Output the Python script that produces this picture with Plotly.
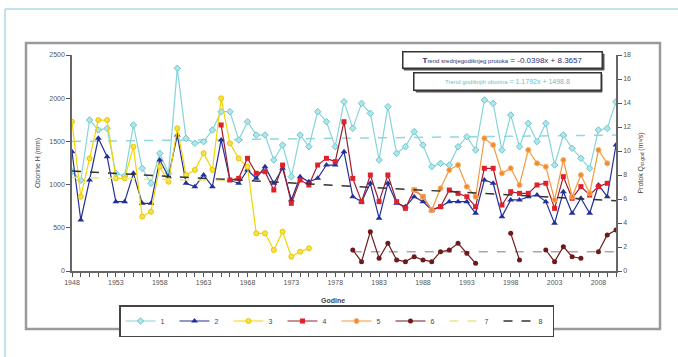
import plotly.graph_objects as go

years = list(range(1948, 2011))

# Series 1 - precipitation (mm), left axis
s1 = [1150, 1050, 1748, 1632, 1650, 1130, 1100, 1690, 1188, 1015,
      1362, 1130, 2346, 1535, 1478, 1497, 1632, 1844, 1844, 1516,
      1728, 1574, 1574, 1285, 1458, 1092, 1574, 1439, 1844, 1728,
      1439, 1960, 1651, 1940, 1825, 1285, 1902, 1362, 1439, 1613,
      1458, 1208, 1246, 1227, 1439, 1555, 1400, 1979, 1940, 1400,
      1806, 1439, 1709, 1497, 1709, 1227, 1574, 1420, 1304, 1188,
      1632, 1651, 1960]

# Series 2 - discharge (m3/s), right axis
s2 = [9.94, 4.25, 7.58, 11.06, 9.53, 5.78, 5.78, 8.14, 5.64, 5.64,
      9.25, 7.86, 11.33, 7.31, 7.03, 8.0, 7.03, 10.92, 7.58, 7.31,
      8.42, 7.72, 8.69, 7.31, 8.56, 5.92, 7.86, 7.44, 7.72, 8.83,
      8.83, 9.94, 6.19, 5.78, 7.31, 4.39, 7.31, 5.64, 5.36, 6.19,
      5.78, 5.08, 5.36, 5.78, 5.78, 5.78, 4.81, 7.58, 7.31, 4.53,
      5.92, 5.92, 6.19, 6.33, 5.78, 3.97, 6.61, 4.81, 6.06, 4.81,
      7.17, 6.19, 10.5]

# Series 3 (1948-1975)
s3_years = list(range(1948, 1976))
s3 = [12.44, 6.19, 9.39, 12.58, 12.58, 7.72, 7.72, 10.36, 4.53, 4.94,
      8.69, 7.44, 11.89, 8.0, 8.42, 9.81, 8.42, 14.39, 10.64, 9.39,
      8.69, 3.14, 3.14, 1.75, 3.28, 1.19, 1.61, 1.89]

# Series 4 (1965-2009)
s4_years = list(range(1965, 2010))
s4 = [12.17, 7.58, 7.72, 9.39, 8.14, 8.28, 6.75, 8.83, 5.64, 7.58,
      7.17, 8.83, 9.39, 9.11, 12.44, 7.72, 5.78, 8.0, 5.78, 8.0,
      5.78, 5.22, 6.75, 6.19, 5.08, 5.36, 6.75, 6.47, 6.19, 5.36,
      8.56, 8.56, 5.5, 6.61, 6.47, 6.47, 7.17, 7.31, 5.22, 7.86,
      6.06, 7.03, 6.33, 7.03, 7.31]

# Series 5 (1987-2009)
s5_years = list(range(1987, 2010))
s5 = [6.75, 6.19, 5.08, 6.89, 8.42, 8.83, 7.03, 6.19, 11.06, 10.5,
      8.14, 8.56, 7.17, 10.08, 8.97, 8.69, 5.92, 9.25, 6.19, 8.0,
      6.47, 10.08, 8.97]

# Series 6 (1980-2010, with gaps)
s6_years = list(range(1980, 2011))
s6 = [1.75, 0.78, 3.28, 1.06, 2.31, 0.92, 0.78, 1.19, 0.92, 0.78,
      1.61, 1.75, 2.31, 1.47, 0.64, None, None, None, 3.14, 0.92,
      None, None, 1.75, 0.78, 2.03, 1.19, 1.06, None, 1.61, 3.0,
      3.42]

# Trend lines (end points)
t7_years = [1948, 1967]
t7 = [7.8, 7.5]
t8_years = [1948, 2010]
t8 = [8.33, 5.86]
t1_years = [1948, 2010]
t1 = [1500, 1573]
t6_years = [1980, 2010]
t6 = [1.6, 1.6]

FONT = "Arial, Liberation Sans, sans-serif"

fig = go.Figure()

fig.add_trace(go.Scatter(x=t1_years, y=t1, mode="lines", showlegend=False,
                         line=dict(color="#8fd8dc", width=1.5, dash="dash")))
fig.add_trace(go.Scatter(x=t6_years, y=t6, mode="lines", showlegend=False, yaxis="y2",
                         line=dict(color="#a8a8a8", width=1.5, dash="dash")))

fig.add_trace(go.Scatter(x=years, y=s1, name="1", mode="lines+markers",
                         line=dict(color="#86d4da", width=1.2),
                         marker=dict(symbol="diamond", size=5, color="#b0e6e9",
                                     line=dict(color="#6cc6cd", width=1))))
fig.add_trace(go.Scatter(x=years, y=s2, name="2", mode="lines+markers", yaxis="y2",
                         line=dict(color="#23309a", width=1.2),
                         marker=dict(symbol="triangle-up", size=6, color="#23309a")))
fig.add_trace(go.Scatter(x=s3_years, y=s3, name="3", mode="lines+markers", yaxis="y2",
                         line=dict(color="#f2d500", width=1.2),
                         marker=dict(symbol="circle", size=5, color="#f7e04a",
                                     line=dict(color="#e8c800", width=1))))
fig.add_trace(go.Scatter(x=s4_years, y=s4, name="4", mode="lines+markers", yaxis="y2",
                         line=dict(color="#a01c2a", width=1.2),
                         marker=dict(symbol="square", size=5, color="#e0202a")))
fig.add_trace(go.Scatter(x=s5_years, y=s5, name="5", mode="lines+markers", yaxis="y2",
                         line=dict(color="#f29a3a", width=1.2),
                         marker=dict(symbol="circle", size=5, color="#f28a2a",
                                     line=dict(color="#f6b070", width=1))))
fig.add_trace(go.Scatter(x=s6_years, y=s6, name="6", mode="lines+markers", yaxis="y2",
                         connectgaps=False,
                         line=dict(color="#6e1a1a", width=1.2),
                         marker=dict(symbol="circle", size=5, color="#6e1a1a")))
fig.add_trace(go.Scatter(x=t7_years, y=t7, name="7", mode="lines", yaxis="y2",
                         line=dict(color="#ece58a", width=1.5, dash="dash")))
fig.add_trace(go.Scatter(x=t8_years, y=t8, name="8", mode="lines", yaxis="y2",
                         line=dict(color="#333333", width=1.5, dash="dash")))

W, H = 678, 357
L, R, T, B = 72, 62, 55, 86
pw, ph = W - L - R, H - T - B


def px(x):
    return (x - L) / pw


def py(y):
    return (H - B - y) / ph


shapes = [
    # light blue outer frame
    dict(type="line", xref="paper", yref="paper", x0=px(5), x1=px(5), y0=py(9), y1=py(357),
         line=dict(color="#bfe3ea", width=2)),
    dict(type="line", xref="paper", yref="paper", x0=px(5), x1=px(678), y0=py(9), y1=py(9),
         line=dict(color="#bfe3ea", width=2)),
    # gray chart box
    dict(type="rect", xref="paper", yref="paper", x0=px(26), x1=px(660), y0=py(329), y1=py(43),
         line=dict(color="#9a9a9a", width=2.5), layer="below"),
    # shadows of equation boxes
    dict(type="rect", xref="paper", yref="paper", x0=px(404), x1=px(604), y0=py(70), y1=py(54),
         line=dict(color="#555555", width=1), fillcolor="#555555"),
    dict(type="rect", xref="paper", yref="paper", x0=px(416), x1=px(602), y0=py(92), y1=py(74),
         line=dict(color="#555555", width=1), fillcolor="#555555"),
]

annotations = [
    dict(xref="paper", yref="paper", x=px(502), y=py(60), xanchor="center", yanchor="middle",
         showarrow=False,
         text="<b>T</b><span style='font-size:6px'>rend srednjegodišnjeg protoka</span> = -0.0398x + 8.3657",
         font=dict(family=FONT, size=8, color="#2b2f7a"),
         bgcolor="white", bordercolor="#333", borderwidth=1.5, borderpad=1,
         width=196, height=13),
    dict(xref="paper", yref="paper", x=px(507), y=py(81), xanchor="center", yanchor="middle",
         showarrow=False,
         text="<span style='font-size:6px'>Trend godišnjih oborina</span> = 1.1792x + 1498.8",
         font=dict(family=FONT, size=7, color="#66c2c8"),
         bgcolor="white", bordercolor="#333", borderwidth=1.5, borderpad=1,
         width=184, height=14),
    dict(xref="paper", yref="paper", x=px(333), y=py(300), xanchor="center", yanchor="middle",
         showarrow=False,
         text="<b>Godine</b>", font=dict(family=FONT, size=7, color="#444")),
]

fig.update_layout(
    width=W, height=H,
    margin=dict(l=L, r=R, t=T, b=B, pad=0, autoexpand=False),
    paper_bgcolor="white", plot_bgcolor="white",
    font=dict(family=FONT, size=7, color="#555"),
    showlegend=True,
    legend=dict(orientation="h", x=px(119), y=py(305), xanchor="left", yanchor="top",
                bordercolor="#444", borderwidth=1.5, bgcolor="white",
                font=dict(family=FONT, size=7, color="#444"),
                itemwidth=30, entrywidth=9, entrywidthmode="pixels",
                tracegroupgap=0),
    xaxis=dict(range=[1948, 2010], showgrid=False, zeroline=False,
               tickvals=list(range(1948, 2011, 5)),
               ticks="outside", ticklen=4, tickcolor="#555",
               minor=dict(dtick=1, tick0=1948, ticks="outside", ticklen=4, tickcolor="#555"),
               showline=True, linecolor="#666", linewidth=1.5,
               tickfont=dict(size=7, color="#555")),
    yaxis=dict(range=[0, 2500], dtick=500, showgrid=False, zeroline=False,
               ticks="outside", ticklen=4, tickcolor="#555",
               showline=True, linecolor="#666", linewidth=1.5,
               tickfont=dict(size=7, color="#555"),
               title=dict(text="Oborine H (mm)", font=dict(size=7, color="#444"), standoff=8)),
    yaxis2=dict(range=[0, 18], dtick=2, overlaying="y", side="right",
                showgrid=False, zeroline=False,
                ticks="outside", ticklen=4, tickcolor="#555",
                showline=True, linecolor="#666", linewidth=1.5,
                tickfont=dict(size=7, color="#555"),
                title=dict(text="Protok Q<sub>sr,god</sub> (m³/s)", font=dict(size=7, color="#444"), standoff=8)),
    shapes=shapes,
    annotations=annotations,
)

fig.write_html("out.html",
               config={"displayModeBar": False},
               post_script="document.body.style.margin='0px';document.body.style.padding='0px';")
